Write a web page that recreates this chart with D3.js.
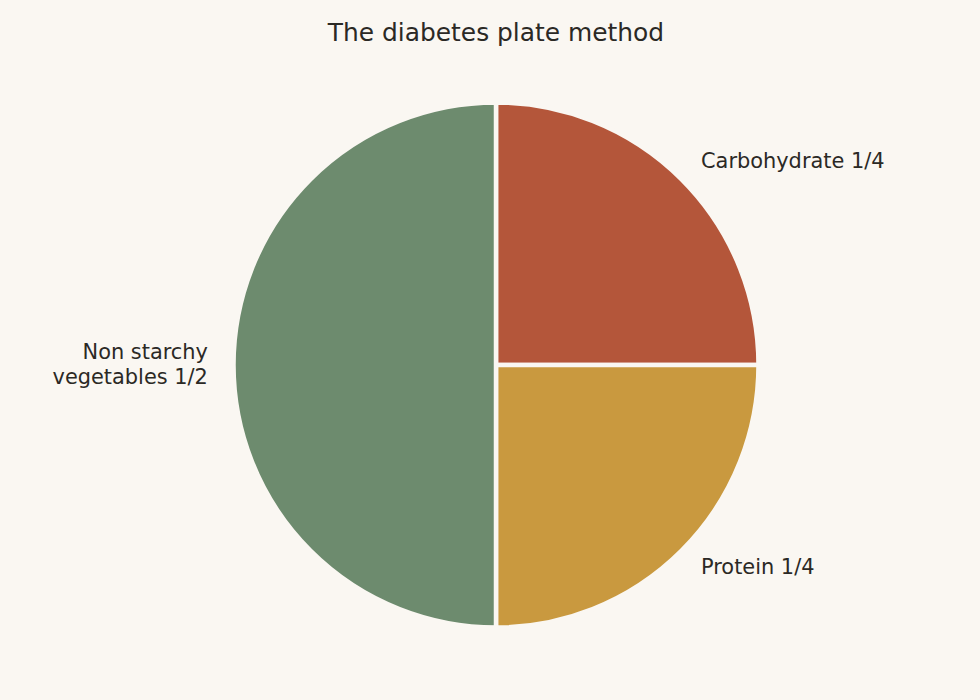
<!DOCTYPE html>
<html>
<head>
<meta charset="utf-8">
<script src="https://cdn.jsdelivr.net/npm/d3@7"></script>
<style>
  body { margin: 0; background: #faf7f2; }
  text { font-family: "DejaVu Sans", sans-serif; fill: #2b2925; }
</style>
</head>
<body>
<svg id="chart" width="980" height="700"></svg>
<script>
const categories = ["Carbohydrate 1/4", "Protein 1/4", "Non starchy\nvegetables 1/2"];
const shares = [0.25, 0.25, 0.5];
const colors = ["#b4563a", "#c9993f", "#6d8b6e"];

const width = 980;
const height = 700;
const cx = 496;
const cy = 365;
const radius = 262.5;

const svg = d3.select("#chart");

svg.append("rect")
  .attr("width", width)
  .attr("height", height)
  .attr("fill", "#faf7f2");

svg.append("text")
  .attr("x", 496)
  .attr("y", 41)
  .attr("text-anchor", "middle")
  .attr("font-size", 24.9)
  .text("The diabetes plate method");

const data = categories.map((c, i) => ({ label: c, value: shares[i], color: colors[i] }));

// clockwise from 12 o'clock
const pie = d3.pie().sort(null).value((d) => d.value);
const arc = d3.arc().innerRadius(0).outerRadius(radius);

const g = svg.append("g").attr("transform", `translate(${cx}, ${cy})`);

const arcs = pie(data);

g.selectAll("path")
  .data(arcs)
  .join("path")
  .attr("d", arc)
  .attr("fill", (d) => d.data.color)
  .attr("stroke", "#faf7f2")
  .attr("stroke-width", 4.5)
  .attr("stroke-linejoin", "miter");

const labelR = 261 * 1.1;
const lineH = 25;

g.selectAll("text.label")
  .data(arcs)
  .join("text")
  .attr("class", "label")
  .attr("font-size", 20.9)
  .attr("text-anchor", (d) => {
    const a = (d.startAngle + d.endAngle) / 2;
    return Math.sin(a) >= 0 ? "start" : "end";
  })
  .each(function (d) {
    const a = (d.startAngle + d.endAngle) / 2;
    const right = Math.sin(a) >= 0;
    const x = labelR * Math.sin(a) + (right ? 2 : -1);
    const y = -labelR * Math.cos(a) - 1;
    const lines = d.data.label.split("\n");
    const y0 = y - ((lines.length - 1) * lineH) / 2;
    d3.select(this)
      .selectAll("tspan")
      .data(lines)
      .join("tspan")
      .attr("x", x)
      .attr("y", (l, i) => y0 + i * lineH)
      .attr("dy", "0.35em")
      .text((l) => l);
  });
</script>
</body>
</html>
